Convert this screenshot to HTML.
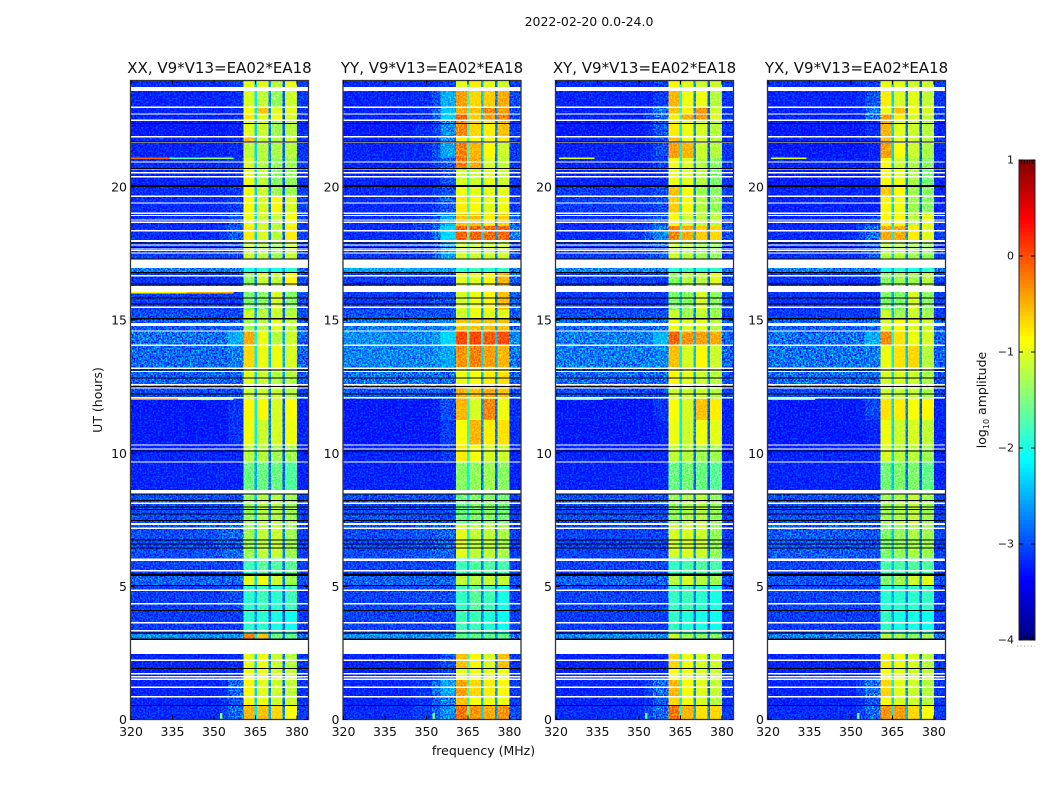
<!DOCTYPE html>
<html lang="en">
<head>
<meta charset="utf-8">
<title>2022-02-20 0.0-24.0</title>
<style>
html,body{margin:0;padding:0;background:#fff;width:1050px;height:800px;overflow:hidden}
svg{display:block}
text{font-family:"DejaVu Sans","Liberation Sans",sans-serif;fill:#111}
</style>
</head>
<body>
<svg id="chart" xmlns="http://www.w3.org/2000/svg" width="1050" height="800" viewBox="0 0 1050 800">
<defs>
<filter id="speckle" x="0" y="0" width="100%" height="100%" color-interpolation-filters="sRGB">
<feTurbulence type="fractalNoise" baseFrequency="0.62" numOctaves="1" seed="4"/>
<feColorMatrix type="matrix" values="3 0 0 0 -1.1 3 0 0 0 -1.1 3 0 0 0 -1.1 0 0 0 0 1"/>
</filter>
<filter id="sparkle" x="0" y="0" width="100%" height="100%" color-interpolation-filters="sRGB">
<feTurbulence type="fractalNoise" baseFrequency="0.55" numOctaves="1" seed="11"/>
<feColorMatrix type="matrix" values="0 0 0 0 0 0 0 0 0 .62 0 0 0 0 1 6 0 0 0 -3"/>
</filter>
</defs>
<text x="589" y="26" font-size="12.5" text-anchor="middle">2022-02-20 0.0-24.0</text>
</svg>
<script>
const panelTitles = ["XX, V9*V13=EA02*EA18","YY, V9*V13=EA02*EA18","XY, V9*V13=EA02*EA18","YX, V9*V13=EA02*EA18"];
const xTickLabels = [320,335,350,365,380];
const yTickLabels = [0,5,10,15,20];
const colorbarTicks = [1,0,-1,-2,-3,-4];
const frequencyEdges = [320,345,352,355,360.6,364.6,365.6,369.7,370.7,374.7,375.7,380,384];
const timeEdges = [24,23.76,23.6,23,22.74,22.48,21.88,21.69,21.09,20.64,20.04,19.66,19.02,18.54,18.01,17.3,16.81,16.06,15.38,15.04,14.59,14.03,13.24,12.53,12.04,11.25,10.31,9.67,8.62,7.31,6.07,5.47,5.01,4.11,3.21,2.99,2.46,1.93,1.48,.85,.51,0];
const amplitudeXX = [
[-3.2,-3.2,-3.2,-3.1,-1,-2.3,-1,-2.6,-1.2,-2.9,-1,-3.1],
[-2.7,-2.7,-2.7,-2.7,-1.9,-2.3,-1.9,-2.6,-1.9,-2.7,-1.9,-2.8],
[-3.25,-3.25,-3.25,-3.2,-1.05,-2.2,-1.15,-2.7,-1.35,-2.9,-1.1,-3.15],
[-3.25,-3.25,-3.25,-3.2,-.9,-2.2,-.6,-2.6,-1,-2.9,-1,-3.15],
[-3.25,-3.25,-3.25,-3.2,-.8,-2.2,-1,-2.6,-.95,-2.9,-1.05,-3.15],
[-3.3,-3.3,-3.3,-3.25,-1,-2.3,-1.1,-2.7,-1.3,-2.9,-1.2,-3.2],
[-3.25,-3.25,-3.25,-3.2,-.6,-2.3,-1.1,-2.7,-1.2,-2.9,-1.1,-3.15],
[-3.25,-3.25,-3.25,-3.2,-1.15,-2.3,-1.2,-2.7,-1.25,-2.9,-1.2,-3.15],
[-3.2,-3.2,-3.2,-3.15,-1.05,-2.3,-1.2,-2.7,-1.35,-2.9,-1.3,-3.1],
[-3.25,-3.25,-3.25,-3.2,-.95,-2.3,-1.15,-2.7,-1.4,-2.9,-1.35,-3.15],
[-3.2,-3.2,-3.2,-3.1,-.95,-2.3,-1.1,-2.7,-1.3,-2.9,-1.3,-3.1],
[-3.2,-3.2,-3.2,-3.1,-.9,-2.3,-1.05,-2.7,-.85,-2.9,-1.05,-3.1],
[-3.2,-3.2,-3.2,-3,-.95,-2.3,-1.1,-2.7,-1.15,-2.9,-.95,-3.1],
[-3.2,-3.2,-3.1,-2.9,-.8,-2.3,-1.05,-2.7,-1.2,-2.9,-.8,-3.1],
[-3.1,-3.1,-3.1,-3,-1.1,-2.4,-1.2,-2.7,-1.3,-2.8,-1.1,-3.1],
[-2.7,-2.7,-2.7,-2.7,-2,-2.5,-1.9,-2.5,-2,-2.5,-1.9,-2.8],
[-3.15,-3.15,-3.15,-3.15,-1.4,-2.7,-1.1,-2.9,-1.15,-2.9,-.85,-3],
[-3.1,-3.1,-3.1,-3.1,-1.45,-2.6,-1.4,-2.8,-1.05,-2.9,-1.4,-3],
[-3,-3,-3,-3,-1.1,-2.5,-1.2,-2.7,-1.1,-2.8,-1.2,-3],
[-2.9,-2.9,-2.9,-2.85,-1.3,-2.4,-1.2,-2.6,-1,-2.7,-1.2,-2.95],
[-2.75,-2.75,-2.75,-2.45,-.5,-2.1,-.95,-2.4,-1.2,-2.5,-1.1,-2.85],
[-2.8,-2.8,-2.8,-2.7,-.7,-2.2,-.95,-2.4,-.95,-2.5,-1.05,-2.85],
[-2.85,-2.85,-2.85,-2.85,-1,-2.3,-1.1,-2.5,-1.2,-2.6,-1.2,-2.95],
[-3,-3,-3,-3,-1.1,-2.5,-1.1,-2.7,-1.1,-2.8,-1.2,-3.05],
[-3.3,-3.3,-3.3,-3.15,-.85,-2.2,-.85,-2.7,-1.05,-2.9,-.9,-3.25],
[-3.3,-3.3,-3.3,-3.15,-.95,-2.2,-1.1,-2.7,-1.05,-2.9,-.95,-3.25],
[-3.25,-3.25,-3.25,-3.25,-1.2,-2.4,-1.2,-2.8,-1.3,-2.9,-1.3,-3.25],
[-3.25,-3.25,-3.25,-3.25,-1.55,-2.5,-1.55,-2.8,-1.55,-2.9,-1.7,-3.25],
[-3,-3,-3,-3,-1.35,-2.4,-1.2,-2.7,-1.2,-2.8,-1.3,-3.1],
[-3,-2.95,-2.85,-2.85,-1.3,-2.4,-1.15,-2.6,-1.1,-2.7,-1.3,-3.1],
[-3.05,-3.05,-3.05,-3.05,-1.8,-2.4,-1.65,-2.7,-1.7,-2.8,-1.65,-3.1],
[-2.85,-2.85,-2.85,-2.85,-1,-2.3,-.95,-2.6,-1.1,-2.7,-1.3,-3],
[-3.1,-3.1,-3,-3,-1.9,-2.5,-1.8,-2.7,-1.9,-2.8,-1.8,-3.15],
[-3.1,-3.1,-3.1,-3.1,-1.9,-2.6,-1.9,-2.8,-2,-2.9,-2.05,-3.15],
[-2.6,-2.6,-2.6,-2.6,-.3,-2.2,-.6,-2.6,-1.5,-2.7,-1.6,-2.8],
[-3.1,-3.1,-3.1,-3.1,-2,-2.5,-2,-2.7,-2,-2.8,-2,-3.1],
[-3.25,-3.25,-3.25,-3.2,-1,-2.3,-.95,-2.6,-1.1,-2.8,-1.2,-3.15],
[-3.25,-3.25,-3.25,-3.2,-.95,-2.3,-.95,-2.6,-1.1,-2.8,-1.15,-3.15],
[-3.25,-3.25,-3.2,-2.85,-.85,-2.3,-1,-2.6,-1.1,-2.8,-1.15,-3.15],
[-3.25,-3.25,-3.2,-3,-.85,-2.3,-.95,-2.6,-1.1,-2.8,-1.1,-3.15],
[-3.2,-3.2,-3.1,-2.8,-.55,-2.2,-.6,-2.5,-.7,-2.7,-.9,-3.1]
];
const amplitudeYY = [
[-3.2,-3.2,-3.2,-3.1,-1,-1.9,-.8,-2.5,-1,-2.8,-1.1,-3.1],
[-2.7,-2.7,-2.7,-2.7,-1.7,-2.2,-1.7,-2.5,-1.7,-2.7,-1.7,-2.8],
[-3.25,-3.2,-3,-2.45,-.45,-1.9,-.7,-2.4,-.65,-2.7,-.5,-3],
[-3.25,-3.2,-2.9,-2.35,-.5,-1.9,-.6,-2.4,-.35,-2.7,-.45,-3],
[-3.25,-3.2,-2.9,-2.3,-.15,-1.8,-.65,-2.4,-.45,-2.7,-.3,-3],
[-3.3,-3.2,-3.05,-2.6,-.35,-1.9,-.7,-2.4,-.8,-2.7,-.6,-3.1],
[-3.25,-3.2,-3,-2.6,-.8,-1.9,-.9,-2.4,-.9,-2.7,-.8,-3.1],
[-3.25,-3.2,-3,-2.5,-.3,-1.9,-.55,-2.4,-.85,-2.7,-1.1,-3.1],
[-3.25,-3.25,-3.1,-2.9,-.3,-2,-.5,-2.5,-1.05,-2.8,-1.15,-3.15],
[-3.25,-3.25,-3.2,-3,-1.05,-2,-1.1,-2.5,-1,-2.8,-1.1,-3.15],
[-3.2,-3.2,-3.1,-3,-.95,-2,-1,-2.5,-1,-2.8,-1,-3.15],
[-3.2,-3.2,-3.1,-2.9,-.8,-1.9,-.85,-2.4,-1,-2.8,-.95,-3.1],
[-3.2,-3.1,-2.95,-2.5,-.6,-1.9,-.6,-2.4,-.8,-2.7,-.65,-2.9],
[-3.2,-3.1,-2.8,-2.25,-.15,-1.8,-.15,-2.3,-.2,-2.6,-.2,-2.7],
[-3.1,-3.1,-2.9,-2.5,-1.1,-2.1,-1.1,-2.5,-1.1,-2.7,-1.1,-3],
[-2.5,-2.5,-2.5,-2.5,-1.9,-2.3,-1.8,-2.4,-1.9,-2.4,-1.8,-2.7],
[-3.1,-3.1,-3.1,-3.1,-1,-2,-1,-2.5,-.85,-2.7,-.55,-2.9],
[-3.1,-3.1,-3,-3,-1.05,-2,-.95,-2.5,-.85,-2.7,-.6,-2.9],
[-2.95,-2.95,-2.95,-2.95,-1.1,-2,-.95,-2.5,-1,-2.7,-1,-2.95],
[-2.7,-2.7,-2.7,-2.65,-.6,-1.9,-.6,-2.3,-.6,-2.5,-.6,-2.8],
[-2.6,-2.6,-2.55,-2.25,0,-1.7,0,-2.2,-.1,-2.4,-.05,-2.65],
[-2.65,-2.65,-2.6,-2.5,-.4,-1.8,-.3,-2.3,-.45,-2.4,-.55,-2.75],
[-2.75,-2.75,-2.75,-2.75,-.95,-2,-.9,-2.4,-.8,-2.5,-.75,-2.85],
[-2.95,-2.95,-2.95,-2.95,-.5,-2,-.6,-2.5,-.5,-2.6,-.6,-3],
[-3.3,-3.3,-3.25,-3,-.55,-2,-1.05,-2.6,-.35,-2.8,-.95,-3.2],
[-3.3,-3.3,-3.3,-3.1,-.9,-2,-.55,-2.6,-.8,-2.8,-.75,-3.2],
[-3.25,-3.25,-3.25,-3.1,-.8,-2.1,-.9,-2.7,-1.05,-2.9,-1.1,-3.25],
[-3.25,-3.25,-3.25,-3.25,-1.4,-2.2,-1.35,-2.8,-1.3,-2.9,-1.4,-3.25],
[-3,-3,-3,-3,-1.55,-2.3,-1.45,-2.7,-1.4,-2.8,-1.5,-3.1],
[-3,-2.95,-2.85,-2.85,-1,-2.2,-1.15,-2.6,-1.15,-2.7,-1.25,-3.1],
[-3.05,-3.05,-3.05,-3.05,-1.8,-2.4,-1.7,-2.7,-1.7,-2.8,-1.75,-3.1],
[-2.85,-2.85,-2.85,-2.85,-1.15,-2.3,-1.2,-2.6,-1.15,-2.7,-1.15,-3],
[-3.05,-3,-3,-3,-1.85,-2.5,-1.65,-2.7,-1.8,-2.8,-2,-3.1],
[-3.05,-3.05,-3.05,-3.05,-1.8,-2.5,-1.8,-2.7,-1.95,-2.8,-2.05,-3.1],
[-2.6,-2.6,-2.6,-2.6,-1.6,-2.2,-1.6,-2.5,-1.6,-2.6,-1.6,-2.8],
[-3.1,-3.1,-3.1,-3.1,-2,-2.5,-2,-2.7,-2,-2.8,-2,-3.1],
[-3.25,-3.25,-3.2,-3,-.6,-1.9,-.85,-2.5,-1.05,-2.7,-.6,-3.15],
[-3.25,-3.25,-3.2,-3.1,-1,-2,-.95,-2.5,-1,-2.7,-.95,-3.15],
[-3.25,-3.15,-2.85,-2.5,-.45,-1.8,-.7,-2.4,-.8,-2.6,-.85,-3.1],
[-3.25,-3.15,-2.95,-2.7,-.6,-1.9,-.9,-2.4,-.95,-2.6,-.95,-3.1],
[-3.2,-3.1,-2.9,-2.6,-.25,-1.7,-.4,-2.3,-.5,-2.6,-.4,-3]
];
const amplitudeXY = [
[-3.2,-3.2,-3.2,-3.1,-.85,-2.1,-1,-2.6,-1.1,-2.9,-1.1,-3.1],
[-2.7,-2.7,-2.7,-2.7,-1.8,-2.2,-1.8,-2.6,-1.8,-2.7,-1.8,-2.8],
[-3.25,-3.25,-3.25,-3.1,-.55,-2.1,-.95,-2.6,-.95,-2.9,-1.2,-3.15],
[-3.25,-3.25,-3.1,-2.75,-.6,-2.1,-.8,-2.6,-.4,-2.9,-1.1,-3.15],
[-3.25,-3.25,-3.1,-2.75,-.8,-2.1,-.5,-2.6,-.45,-2.9,-1.05,-3.15],
[-3.3,-3.3,-3.2,-2.95,-.8,-2.2,-.95,-2.6,-1.05,-2.9,-1.2,-3.15],
[-3.25,-3.25,-3.2,-3,-.6,-2.2,-.9,-2.6,-1.1,-2.9,-1.2,-3.15],
[-3.25,-3.25,-3.2,-3,-.45,-2.2,-.55,-2.6,-1.1,-2.9,-1.2,-3.15],
[-3.25,-3.25,-3.2,-3.1,-.95,-2.2,-1,-2.6,-1.2,-2.9,-1.4,-3.15],
[-3.25,-3.25,-3.25,-3.2,-.95,-2.2,-1,-2.6,-1.2,-2.9,-1.45,-3.15],
[-3.1,-3.1,-3.1,-3,-.6,-2.2,-.9,-2.6,-1.3,-2.9,-1.4,-3.1],
[-3.1,-3.1,-3.1,-3,-.65,-2.2,-.9,-2.6,-1.2,-2.9,-1.35,-3.1],
[-3.2,-3.2,-3.1,-2.95,-.85,-2.2,-1.1,-2.6,-1.2,-2.9,-1.2,-3.1],
[-3.2,-3.1,-2.95,-2.65,-.3,-2,-.5,-2.5,-.65,-2.8,-.7,-2.95],
[-3.1,-3.1,-3,-2.9,-1.1,-2.3,-1.2,-2.6,-1.3,-2.8,-1.35,-3.1],
[-2.65,-2.65,-2.65,-2.65,-1.9,-2.4,-1.8,-2.5,-1.9,-2.5,-1.9,-2.8],
[-3.1,-3.1,-3.1,-3.1,-1.4,-2.4,-1.2,-2.7,-1.2,-2.8,-1,-3.05],
[-3.1,-3.1,-3.1,-3.1,-1.45,-2.4,-1.4,-2.7,-1.05,-2.8,-1.4,-3.05],
[-3,-3,-3,-3,-1.1,-2.4,-1.3,-2.7,-1.15,-2.8,-1.3,-3.05],
[-2.8,-2.8,-2.8,-2.75,-.95,-2.3,-1.05,-2.5,-1,-2.6,-1.2,-2.9],
[-2.7,-2.7,-2.65,-2.4,-.15,-2.1,-.4,-2.4,-.45,-2.5,-.5,-2.85],
[-2.7,-2.7,-2.7,-2.65,-.6,-2.2,-1.05,-2.4,-.85,-2.5,-1.1,-2.85],
[-2.8,-2.8,-2.8,-2.8,-.85,-2.3,-1,-2.5,-1.1,-2.6,-1.2,-2.95],
[-3,-3,-3,-3,-1.1,-2.4,-1.1,-2.6,-1.1,-2.7,-1.2,-3.05],
[-3.3,-3.3,-3.3,-3.15,-.9,-2.2,-1.05,-2.7,-.6,-2.9,-.8,-3.25],
[-3.3,-3.3,-3.3,-3.25,-.95,-2.2,-1.1,-2.7,-.95,-2.9,-1,-3.25],
[-3.25,-3.25,-3.25,-3.25,-1.15,-2.3,-1.2,-2.8,-1.3,-2.9,-1.3,-3.25],
[-3.25,-3.25,-3.25,-3.25,-1.55,-2.4,-1.5,-2.8,-1.55,-2.9,-1.65,-3.25],
[-3,-3,-3,-3,-1.35,-2.4,-1.25,-2.7,-1.2,-2.8,-1.35,-3.1],
[-3.05,-3.05,-3.05,-3.05,-1.05,-2.3,-1.05,-2.6,-1.1,-2.7,-1.35,-3.1],
[-3.05,-3.05,-3.05,-3.05,-1.85,-2.4,-1.75,-2.7,-1.7,-2.8,-1.75,-3.1],
[-2.85,-2.85,-2.85,-2.85,-1.2,-2.3,-1.05,-2.6,-1.2,-2.7,-1.3,-3],
[-3.05,-3.05,-3.05,-3.05,-1.85,-2.5,-1.8,-2.7,-1.9,-2.8,-2,-3.15],
[-3.1,-3.1,-3.1,-3.1,-1.85,-2.6,-1.95,-2.8,-2,-2.9,-2.05,-3.15],
[-2.6,-2.6,-2.6,-2.6,-1.1,-2.3,-1.3,-2.6,-1.4,-2.7,-1.4,-2.8],
[-3.1,-3.1,-3.1,-3.1,-2,-2.5,-2,-2.7,-2,-2.8,-2,-3.1],
[-3.25,-3.25,-3.25,-3.2,-.7,-2.2,-.95,-2.6,-1.05,-2.8,-1.1,-3.15],
[-3.25,-3.25,-3.25,-3.2,-.9,-2.2,-.95,-2.6,-1.05,-2.8,-1.15,-3.15],
[-3.25,-3.25,-3.1,-2.75,-.55,-2.1,-.9,-2.6,-1,-2.8,-1.15,-3.15],
[-3.25,-3.25,-3.2,-2.95,-.7,-2.2,-.95,-2.6,-1.05,-2.8,-1.2,-3.15],
[-3.2,-3.2,-3.05,-2.8,-.25,-2.1,-.55,-2.5,-.75,-2.7,-.7,-3.1]
];
const amplitudeYX = [
[-3.2,-3.2,-3.2,-3.1,-.95,-2.3,-1,-2.7,-1.1,-2.9,-1.1,-3.1],
[-2.7,-2.7,-2.7,-2.7,-1.8,-2.2,-1.8,-2.6,-1.8,-2.7,-1.8,-2.8],
[-3.25,-3.25,-3.2,-2.95,-.8,-2.3,-1.05,-2.7,-1,-2.9,-1.15,-3.15],
[-3.25,-3.25,-3.2,-2.75,-.95,-2.3,-.6,-2.7,-.95,-2.9,-1.05,-3.15],
[-3.25,-3.25,-3.2,-2.75,-.45,-2.2,-.8,-2.7,-1.05,-2.9,-1.15,-3.15],
[-3.3,-3.3,-3.3,-3.2,-.55,-2.3,-1,-2.7,-1.1,-2.9,-1.2,-3.25],
[-3.25,-3.25,-3.25,-3.2,-.6,-2.3,-1,-2.7,-1.1,-2.9,-1.2,-3.15],
[-3.3,-3.3,-3.3,-3.25,-.45,-2.3,-.9,-2.7,-1.1,-2.9,-1.25,-3.25],
[-3.25,-3.25,-3.25,-3.25,-.85,-2.3,-1.1,-2.7,-1.25,-2.9,-1.4,-3.25],
[-3.3,-3.3,-3.3,-3.25,-.85,-2.3,-.95,-2.7,-1.25,-2.9,-1.5,-3.25],
[-3.25,-3.25,-3.25,-3.25,-.65,-2.3,-.85,-2.7,-1.3,-2.9,-1.4,-3.25],
[-3.25,-3.25,-3.25,-3.25,-.85,-2.3,-.95,-2.7,-1.3,-2.9,-1.4,-3.25],
[-3.25,-3.25,-3.25,-3.1,-.85,-2.3,-.85,-2.7,-1.2,-2.9,-1,-3.15],
[-3.2,-3.2,-3.05,-2.75,-.5,-2.2,-.5,-2.6,-.8,-2.8,-1,-3.1],
[-3.15,-3.15,-3.1,-2.95,-1.2,-2.3,-1.2,-2.7,-1.3,-2.9,-1.35,-3.1],
[-2.7,-2.7,-2.7,-2.7,-2,-2.5,-1.9,-2.5,-2,-2.6,-1.9,-2.8],
[-3.15,-3.15,-3.15,-3.15,-1.4,-2.5,-1.3,-2.7,-1.3,-2.9,-1.2,-3.1],
[-3.15,-3.15,-3.15,-3.15,-1.45,-2.5,-1.45,-2.7,-1.05,-2.9,-1.4,-3.1],
[-3.1,-3.1,-3.1,-3.1,-1.1,-2.4,-1.3,-2.7,-1.1,-2.8,-1.3,-3.1],
[-2.85,-2.85,-2.85,-2.8,-1.05,-2.3,-.85,-2.6,-1,-2.7,-1.1,-2.95],
[-2.75,-2.75,-2.75,-2.45,-.35,-2.1,-.75,-2.4,-.95,-2.5,-1.05,-2.85],
[-2.75,-2.75,-2.75,-2.7,-.95,-2.2,-.75,-2.4,-.7,-2.5,-1.2,-2.85],
[-2.8,-2.8,-2.8,-2.8,-1.05,-2.3,-1.05,-2.5,-1.1,-2.6,-1.25,-2.95],
[-3,-3,-3,-3,-1.1,-2.4,-1.15,-2.6,-1.15,-2.7,-1.25,-3.05],
[-3.3,-3.3,-3.25,-3.05,-.75,-2.3,-.8,-2.7,-.9,-2.9,-.85,-3.25],
[-3.3,-3.3,-3.3,-3.25,-.95,-2.3,-1.1,-2.7,-1.05,-2.9,-1.15,-3.25],
[-3.25,-3.25,-3.25,-3.2,-1.05,-2.3,-1.2,-2.8,-1.2,-2.9,-1.3,-3.25],
[-3.25,-3.25,-3.25,-3.25,-1.5,-2.4,-1.45,-2.8,-1.45,-2.9,-1.6,-3.25],
[-3,-3,-3,-3,-1.3,-2.4,-1.25,-2.7,-1.15,-2.8,-1.3,-3.1],
[-2.9,-2.9,-2.95,-2.95,-1.45,-2.4,-1.35,-2.6,-1.25,-2.7,-1.3,-3.1],
[-3.05,-3.05,-3.05,-3.05,-1.75,-2.4,-1.75,-2.7,-1.7,-2.8,-1.7,-3.1],
[-2.95,-2.95,-2.95,-2.95,-1.45,-2.3,-1.3,-2.6,-1.1,-2.7,-1,-3],
[-3.05,-3.05,-3.05,-3.05,-1.9,-2.5,-1.9,-2.7,-1.9,-2.8,-1.85,-3.15],
[-3.1,-3.1,-3.1,-3.1,-1.85,-2.6,-2,-2.8,-2,-2.9,-2.05,-3.15],
[-2.7,-2.7,-2.7,-2.7,-1.2,-2.4,-1.3,-2.6,-1.4,-2.7,-1.3,-2.8],
[-3.1,-3.1,-3.1,-3.1,-2,-2.5,-2,-2.7,-2,-2.8,-2,-3.1],
[-3.25,-3.25,-3.25,-3.2,-.8,-2.3,-.95,-2.6,-1.05,-2.8,-1.2,-3.15],
[-3.25,-3.25,-3.25,-3.2,-.9,-2.3,-1,-2.6,-1.1,-2.8,-1.15,-3.15],
[-3.25,-3.25,-3.1,-2.75,-.7,-2.2,-1,-2.6,-1.1,-2.8,-1.2,-3.15],
[-3.25,-3.25,-3.2,-2.95,-.85,-2.3,-1.05,-2.6,-1.1,-2.8,-1.2,-3.15],
[-3.2,-3.2,-3.05,-2.8,-.4,-2.2,-.45,-2.5,-.7,-2.7,-.9,-3.1]
];
const whiteBandHours = [[23.76,23.6],[18.01,17.93],[17.28,16.96],[16.28,16.06],[14.89,14.78],[8.62,8.47],[7.38,7.31],[6.04,5.96],[5.61,5.56],[2.99,2.46]];
const whiteLineHours = [22.99,22.74,22.5,21.88,21.67,20.94,20.68,20.53,20.38,19.66,19.4,19.02,18.93,18.76,18.67,18.35,17.82,17.71,17.62,17.52,16.66,15.49,14.59,14.05,13.2,13.07,12.58,12.45,12.08,10.31,10.16,9.67,8.12,7.18,4.86,4.35,3.64,3.34,2.22,1.72,1.61,1.51,1.21,.86];
const blackLineHours = [22.38,21.69,20.69,20.05,20.02,17.9,17.73,17.3,16.78,16.36,15.83,15.6,15.07,15.04,13.13,12.83,12.5,12.22,10.08,8.47,8.22,7.99,7.88,7.72,7.47,6.74,6.59,6.45,5.47,5.43,5.4,5.04,4.1,3.25,3.03,3,1.92,.52];
const burstPanels = [0,0,0,0,0,2,3,0,0,2,3,0,1,2,3];
const burstStartHours = [21.05,21.05,21.05,12.0,12.0,21.05,21.05,16.0,16.0,12.0,12.0,.0,.0,.0,.0];
const burstEndHours = [21.1,21.1,21.1,12.05,12.05,21.1,21.1,16.05,16.05,12.05,12.05,.25,.25,.25,.25];
const burstStartFreq = [320,334,345,320,337,321,321,320,340,320,320,352.2,352.2,352.2,352.2];
const burstEndFreq = [334,345,357,337,357,334,334,340,357,337,337,353,353,353,353];
const burstValues = [-.1,-1.7,-1.4,-.3,-1.1,-1,-1,-.85,-.5,-1.6,-1.6,-1.5,-1.6,-1.6,-1.6];

const svgNS = "http://www.w3.org/2000/svg";
const chart = document.getElementById("chart");
const panelLeft = [131,343.5,556,768];
const panelWidth = 177;
const panelTop = 80.5;
const panelHeight = 639;
const amplitudeByPanel = [amplitudeXX,amplitudeYY,amplitudeXY,amplitudeYX];
const panelKeys = ["xx","yy","xy","yx"];

function xScale(panel,mhz){return panelLeft[panel]+(mhz-320)/64*panelWidth;}
function yScale(hours){return panelTop+(24-hours)/24*panelHeight;}
function jetChannel(t,shift){
  const v=1.5-Math.abs(4*t-shift);
  return Math.round(255*Math.max(0,Math.min(1,v)));
}
function jetColor(logAmp){
  const t=Math.max(0,Math.min(1,(logAmp+4)/5));
  return "rgb("+jetChannel(t,3)+","+jetChannel(t,2)+","+jetChannel(t,1)+")";
}
function make(tag,attrs,parent){
  const el=document.createElementNS(svgNS,tag);
  for(const k in attrs){el.setAttribute(k,attrs[k]);}
  parent.appendChild(el);
  return el;
}

panelTitles.forEach(function(title,p){
  const key=panelKeys[p];
  const g=make("g",{style:"isolation:isolate"},chart);
  
  
  const rows=amplitudeByPanel[p];
  rows.forEach(function(row,r){
    row.forEach(function(val,c){
      const x0=xScale(p,frequencyEdges[c]),x1=xScale(p,frequencyEdges[c+1]);
      const y0=yScale(timeEdges[r]),y1=yScale(timeEdges[r+1]);
      const cell=make("rect",{x:x0,y:y0,width:x1-x0,height:y1-y0,fill:jetColor(val),"shape-rendering":"crispEdges"},g);
      
      
    });
  });
  const bandL=xScale(p,360.6),bandR=xScale(p,380),axisL=panelLeft[p],axisR=panelLeft[p]+panelWidth;
  const textureLeft=make("rect",{x:axisL,y:panelTop,width:bandL-axisL,height:panelHeight,fill:"#808080",filter:"url(#speckle)",style:"mix-blend-mode:overlay"},g);
  
  
  const textureBand=make("rect",{x:bandL,y:panelTop,width:bandR-bandL,height:panelHeight,fill:"#808080",filter:"url(#speckle)",style:"mix-blend-mode:overlay",opacity:.5},g);
  
  
  const textureRight=make("rect",{x:bandR,y:panelTop,width:axisR-bandR,height:panelHeight,fill:"#808080",filter:"url(#speckle)",style:"mix-blend-mode:overlay"},g);
  
  
  const sparkleLeft=make("rect",{x:axisL,y:panelTop,width:bandL-axisL,height:panelHeight,fill:"#000",filter:"url(#sparkle)",opacity:.45},g);
  
  
  const sparkleRight=make("rect",{x:bandR,y:panelTop,width:axisR-bandR,height:panelHeight,fill:"#000",filter:"url(#sparkle)",opacity:.45},g);
  
  
  burstValues.forEach(function(val,i){
    if(burstPanels[i]!==p){return;}
    const x0=xScale(p,burstStartFreq[i]),x1=xScale(p,burstEndFreq[i]);
    const y0=yScale(burstEndHours[i]),y1=yScale(burstStartHours[i]);
    const burst=make("rect",{x:x0,y:y0,width:x1-x0,height:Math.max(1,y1-y0),fill:jetColor(val),"shape-rendering":"crispEdges"},g);
    
    
  });
  whiteBandHours.forEach(function(b){
    const y0=yScale(b[0]),y1=yScale(b[1]);
    const band=make("rect",{x:panelLeft[p],y:y0,width:panelWidth,height:y1-y0,fill:"#fff","shape-rendering":"crispEdges"},g);
    
    
  });
  whiteLineHours.forEach(function(h){
    const line=make("rect",{x:panelLeft[p],y:yScale(h)-.7,width:panelWidth,height:1.4,fill:"#fff","shape-rendering":"crispEdges"},g);
    
    
  });
  blackLineHours.forEach(function(h){
    const line=make("rect",{x:panelLeft[p],y:yScale(h)-.5,width:panelWidth,height:1,fill:"#000","shape-rendering":"crispEdges"},g);
    
    
  });
  const frame=make("rect",{x:panelLeft[p]-.5,y:panelTop,width:panelWidth+1,height:panelHeight,fill:"none",stroke:"#333","stroke-width":1.3},g);
  
  
  xTickLabels.forEach(function(v){
    const x=xScale(p,v);
    const t1=make("line",{x1:x,x2:x,y1:panelTop+panelHeight,y2:panelTop+panelHeight-4,stroke:"#000"},g);
    
    
    const t2=make("line",{x1:x,x2:x,y1:panelTop,y2:panelTop+4,stroke:"#000"},g);
    
    
    const lab=make("text",{x:x,y:736,"font-size":12.5,"text-anchor":"middle"},g);
    
    
    lab.textContent=v;
  });
  yTickLabels.forEach(function(v){
    const y=yScale(v);
    const t1=make("line",{x1:panelLeft[p],x2:panelLeft[p]+4,y1:y,y2:y,stroke:"#000"},g);
    
    
    const t2=make("line",{x1:panelLeft[p]+panelWidth,x2:panelLeft[p]+panelWidth-4,y1:y,y2:y,stroke:"#000"},g);
    
    
    const lab=make("text",{x:panelLeft[p]-4,y:y+4.5,"font-size":12.5,"text-anchor":"end"},g);
    
    
    lab.textContent=v;
  });
  const ttl=make("text",{x:panelLeft[p]+panelWidth/2,y:73,"font-size":15,"text-anchor":"middle"},g);
  
  
  ttl.textContent=title;
});

const xTitle=make("text",{x:483.5,y:755,"font-size":12.5,"text-anchor":"middle"},chart);


xTitle.textContent="frequency (MHz)";

const yTitle=make("text",{x:0,y:0,"font-size":12.5,"text-anchor":"middle",transform:"translate(102,400) rotate(-90)"},chart);


yTitle.textContent="UT (hours)";

const cb=make("g",{},chart);


const cbX=1019,cbW=16,cbTop=160,cbH=480;
function cbScale(v){return cbTop+(1-v)/5*cbH;}
for(let i=0;i<120;i++){
  const v0=1-i*5/120;
  const step=make("rect",{x:cbX,y:cbScale(v0),width:cbW,height:cbH/120+.5,fill:jetColor(v0-2.5/120),"shape-rendering":"crispEdges"},cb);
  
  
}
const cbFrame=make("rect",{x:cbX,y:cbTop,width:cbW,height:cbH,fill:"none",stroke:"#222","stroke-width":1},cb);


for(let i=1;i<6;i++){
  const top=make("line",{x1:cbX+i*2.7,x2:cbX+i*2.7,y1:cbTop,y2:cbTop+4,stroke:"#000","stroke-width":.7},cb);
  
  
  const bottom=make("line",{x1:cbX+i*2.7,x2:cbX+i*2.7,y1:cbTop+cbH-4,y2:cbTop+cbH,stroke:"#000","stroke-width":.7},cb);
  
  
}
colorbarTicks.forEach(function(v){
  const y=cbScale(v);
  const t1=make("line",{x1:cbX,x2:cbX+4,y1:y,y2:y,stroke:"#000"},cb);
  
  
  const t2=make("line",{x1:cbX+cbW-4,x2:cbX+cbW,y1:y,y2:y,stroke:"#000"},cb);
  
  
  const lab=make("text",{x:1014,y:y+3.5,"font-size":11,"text-anchor":"end"},cb);
  
  
  lab.textContent=String(v).replace("-","\u2212");
});
const cbDots=make("line",{x1:1017,x2:1035,y1:646,y2:646,stroke:"#999","stroke-dasharray":"1 2.5"},cb);



const cbTitle=make("text",{x:0,y:0,"font-size":12.5,"text-anchor":"middle",transform:"translate(986,400) rotate(-90)"},cb);


const t1=make("tspan",{},cbTitle);
t1.textContent="log";
const t2=make("tspan",{"font-size":8,dy:3},cbTitle);
t2.textContent="10";
const t3=make("tspan",{dy:-3},cbTitle);
t3.textContent=" amplitude";
</script>
</body>
</html>
